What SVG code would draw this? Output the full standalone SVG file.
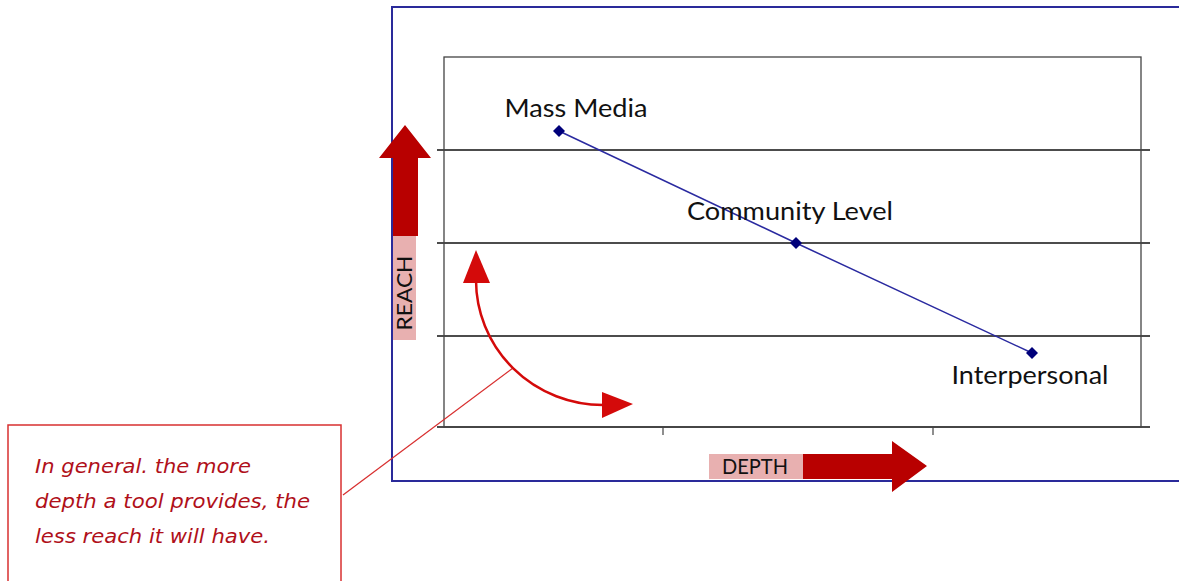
<svg xmlns="http://www.w3.org/2000/svg" width="1179" height="581" viewBox="0 0 1179 581">
  <style>
    .frame { fill: none; stroke: #2a2a9a; stroke-width: 2; }
    .plot { fill: none; stroke: #444; stroke-width: 1.3; }
    .grid { stroke: #111; stroke-width: 1.3; }
    .tick { stroke: #444; stroke-width: 1.2; }
    .series { fill: none; stroke: #2a2aa0; stroke-width: 1.5; }
    .pt { fill: #00007a; }
    .lbl { font-family: Lato, "Noto Sans", sans-serif; font-size: 25px; fill: #111; }
    .axis-lbl { font-family: Lato, "Noto Sans", sans-serif; font-size: 21px; fill: #111; }
    .shaft { fill: #b80000; }
    .pad { fill: #e8b0b0; }
    .curve { fill: none; stroke: #d40a0a; stroke-width: 2.5; }
    .note-box { fill: none; stroke: #d83030; stroke-width: 1.5; }
    .note { font-family: "DejaVu Sans", sans-serif; font-style: italic; font-size: 20px; fill: #b0101a; }
  </style>

  <rect class="frame" x="392" y="7" width="800" height="474"/>

  <!-- chart area -->
  <g id="chart">
    <line class="grid" x1="437" y1="150" x2="1150" y2="150"/>
    <line class="grid" x1="437" y1="243" x2="1150" y2="243"/>
    <line class="grid" x1="437" y1="336" x2="1150" y2="336"/>
    <line class="grid" x1="437" y1="427" x2="1150" y2="427"/>
    <rect class="plot" x="444" y="57" width="697" height="370"/>
    <line class="tick" x1="663" y1="427" x2="663" y2="435"/>
    <line class="tick" x1="933" y1="427" x2="933" y2="435"/>
  </g>

  <!-- axis arrows -->
  <g id="reach-axis">
    <rect class="pad" x="393" y="236" width="23" height="104"/>
    <path class="shaft" d="M393,236 L393,158 L379,158 L405,125 L431,158 L418,158 L418,236 Z"/>
    <text class="axis-lbl" transform="translate(412,293) rotate(-90)" text-anchor="middle" textLength="75" lengthAdjust="spacingAndGlyphs">REACH</text>
  </g>
  <g id="depth-axis">
    <rect class="pad" x="709" y="454" width="94" height="25"/>
    <path class="shaft" d="M803,454 L892,454 L892,441 L927,466 L892,492 L892,479 L803,479 Z"/>
    <text class="axis-lbl" x="755" y="474" text-anchor="middle" textLength="66" lengthAdjust="spacingAndGlyphs">DEPTH</text>
  </g>

  <!-- series and callout connectors -->
  <g id="connectors">
    <polyline class="series" points="559,131 796,243 1032,353"/>
    <line x1="343" y1="495" x2="513" y2="368" stroke="#d83030" stroke-width="1.3"/>
    <path class="curve" d="M476,280 A127,125 0 0 0 603,405"/>
    <path d="M476,250 L463,283 L490,283 Z" fill="#d40a0a"/>
    <path d="M633,404 L602,392 L602,418 Z" fill="#d40a0a"/>
  </g>

  <g id="mass-media">
    <path class="pt" d="M559,125 L565,131 L559,137 L553,131 Z"/>
    <text class="lbl" x="576" y="117" text-anchor="middle" textLength="143" lengthAdjust="spacingAndGlyphs">Mass Media</text>
  </g>
  <g id="community-level">
    <path class="pt" d="M796,237 L802,243 L796,249 L790,243 Z"/>
    <text class="lbl" x="790" y="220" text-anchor="middle" textLength="206" lengthAdjust="spacingAndGlyphs">Community Level</text>
  </g>
  <g id="interpersonal">
    <path class="pt" d="M1032,347 L1038,353 L1032,359 L1026,353 Z"/>
    <text class="lbl" x="1030" y="384" text-anchor="middle" textLength="157" lengthAdjust="spacingAndGlyphs">Interpersonal</text>
  </g>

  <g id="note">
    <rect class="note-box" x="8" y="425" width="333" height="170"/>
    <text class="note" x="35" y="473" textLength="216" lengthAdjust="spacingAndGlyphs">In general. the more</text>
    <text class="note" x="35" y="508" textLength="275" lengthAdjust="spacingAndGlyphs">depth a tool provides, the</text>
    <text class="note" x="35" y="543" textLength="235" lengthAdjust="spacingAndGlyphs">less reach it will have.</text>
  </g>
</svg>
